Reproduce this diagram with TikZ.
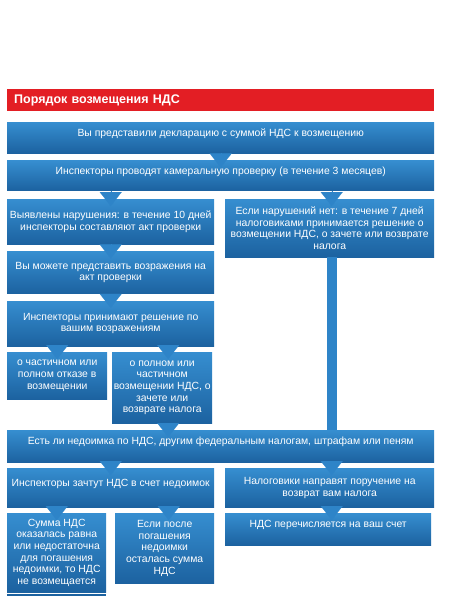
\documentclass[tikz,border=0pt]{standalone}
\usepackage{fontspec}
\setmainfont{Liberation Sans}
\usetikzlibrary{positioning,arrows.meta}
\definecolor{headred}{RGB}{227,30,36}
\definecolor{boxtop}{RGB}{54,142,208}
\definecolor{boxbottom}{RGB}{28,98,160}
\definecolor{ptrblue}{RGB}{46,132,200}

\begin{document}
\begin{tikzpicture}[
    x=1pt, y=-1pt,
    every node/.style={font=\fontsize{10.4}{11.7}\selectfont, text=white},
    header/.style={rectangle, fill=headred, anchor=north west, minimum width=427pt, minimum height=22pt, inner xsep=7pt, text width=413pt, align=left, font=\bfseries\fontsize{12.5}{14}\selectfont},
    box/.style={rectangle, top color=boxtop, bottom color=boxbottom, anchor=north west, align=center, inner sep=1.5pt},
    oneline/.style={text height=7.5pt, text depth=10pt},
    ptr/.style={-{Triangle[width=22pt,length=14pt]}, line width=0.1pt, draw=ptrblue, fill=ptrblue, shorten >=-7pt},
    bar/.style={line width=10pt, draw=ptrblue}
]
\useasboundingbox (0,0) rectangle (451,600);

% Title
\node[header] (title) at (7,89) {Порядок возмещения НДС};

% Declaration and desk audit
\node[box, oneline, minimum width=427pt, minimum height=31pt] (decl) at (7,122) {Вы представили декларацию с суммой НДС к возмещению};
\node[box, oneline, below=7pt of decl, minimum width=427pt, minimum height=30pt] (audit) {Инспекторы проводят камеральную проверку (в течение 3 месяцев)};

% Violations found
\node[box, minimum width=207pt, minimum height=45pt] (found) at (7,199) {Выявлены нарушения: в течение 10 дней\\инспекторы составляют акт проверки};
\node[box, below=7pt of found, minimum width=207pt, minimum height=42pt] (objection) {Вы можете представить возражения на\\акт проверки};
\node[box, below=7pt of objection, minimum width=207pt, minimum height=45pt] (decision) {Инспекторы принимают решение по\\вашим возражениям};
\node[box, minimum width=100pt, minimum height=47pt] (refusal) at (7,352) {о частичном или\\полном отказе в\\возмещении};
\node[box, minimum width=100pt, minimum height=71pt] (refund) at (112,352) {о полном или\\частичном\\возмещении НДС, о\\зачете или\\возврате налога};

% No violations
\node[box, minimum width=209pt, minimum height=58pt] (clean) at (225,199) {Если нарушений нет: в течение 7 дней\\налоговиками принимается решение о\\возмещении НДС, о зачете или возврате\\налога};

% Arrears
\node[box, oneline, minimum width=427pt, minimum height=32pt] (arrears) at (7,430) {Есть ли недоимка по НДС, другим федеральным налогам, штрафам или пеням};
\node[box, oneline, minimum width=207pt, minimum height=39pt] (offset) at (7,468) {Инспекторы зачтут НДС в счет недоимок};
\node[box, minimum width=209pt, minimum height=39pt] (order) at (225,468) {Налоговики направят поручение на\\возврат вам налога};
\node[box, minimum width=99pt, minimum height=79pt] (nothing) at (7,513) {Сумма НДС\\оказалась равна\\или недостаточна\\для погашения\\недоимки, то НДС\\не возмещается};
\node[box, minimum width=99pt, minimum height=70pt] (rest) at (115,513) {Если после\\погашения\\недоимки\\осталась сумма\\НДС};
\node[box, oneline, minimum width=206pt, minimum height=32pt] (paid) at (225,513) {НДС перечисляется на ваш счет};
\draw[line width=2pt, boxbottom] ([yshift=-2.5pt]nothing.south west) -- ([yshift=-2.5pt]nothing.south east);

% Pointers
\draw[ptr] (decl) -- (audit);
\draw[ptr] (found.north |- audit.south) -- (found.north);
\draw[ptr] ([xshift=2pt]clean.north |- audit.south) -- ([xshift=2pt]clean.north);
\draw[ptr] (found) -- (objection);
\draw[ptr] (objection) -- (decision);
\draw[ptr] (refusal.north |- decision.south) -- (refusal.north);
\draw[ptr] ([xshift=6pt]refund.north |- decision.south) -- ([xshift=6pt]refund.north);
\draw[ptr] ([xshift=6pt]refund.south) -- ([xshift=6pt]refund.south |- arrears.north);
\draw[bar] ([xshift=2.5pt]clean.south) -- ([xshift=2.5pt]clean.south |- arrears.north);
\draw[ptr] (found.north |- arrears.south) -- (found.north |- offset.north);
\draw[ptr] ([xshift=2pt]clean.north |- arrears.south) -- ([xshift=2pt]order.north);
\draw[ptr] (nothing.north |- offset.south) -- (nothing.north);
\draw[ptr] ([xshift=4pt]rest.north |- offset.south) -- ([xshift=4pt]rest.north);
\draw[ptr] ([xshift=2pt]order.south) -- ([xshift=2pt]order.south |- paid.north);

\end{tikzpicture}
\end{document}
